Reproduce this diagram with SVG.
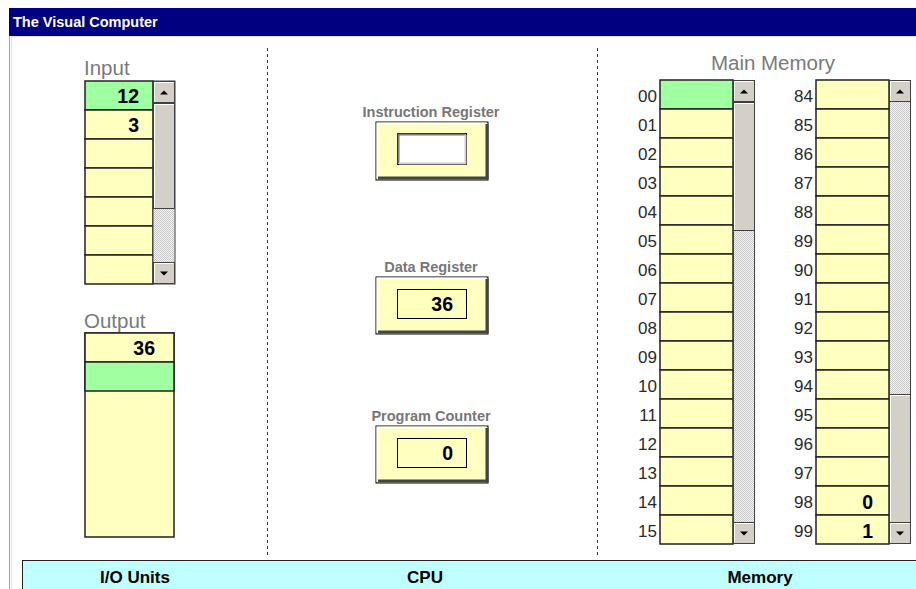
<svg xmlns="http://www.w3.org/2000/svg" width="916" height="589" viewBox="0 0 916 589">
<style>
.title{font-family:"Liberation Sans",Arial,sans-serif;font-weight:bold;font-size:14.5px;fill:#fff}
.big{font-family:"Liberation Sans",Arial,sans-serif;font-size:20.5px;fill:#7a7a7a}
.reg{font-family:"Liberation Sans",Arial,sans-serif;font-weight:bold;font-size:14.5px;fill:#777;text-anchor:middle}
.addr{font-family:"Liberation Sans",Arial,sans-serif;font-size:17px;fill:#2a2a2a;text-anchor:end}
.val{font-family:"Liberation Sans",Arial,sans-serif;font-weight:bold;font-size:19.5px;fill:#000;text-anchor:end}
.foot{font-family:"Liberation Sans",Arial,sans-serif;font-weight:bold;font-size:17px;fill:#000;text-anchor:middle}
.cell{fill:#ffffc0;stroke:#222;stroke-width:1.5}
.green{fill:#a0ffa0;stroke:#222;stroke-width:1.5}
.btn{fill:#d4d0c8;stroke:#404040;stroke-width:1}
.thumb{fill:#d4d0c8;stroke:#404040;stroke-width:1}
.track{fill:url(#dots)}
.div{stroke:#333;stroke-width:1;stroke-dasharray:3,3}
</style>
<defs>
<pattern id="dots" width="2" height="2" patternUnits="userSpaceOnUse">
<rect width="2" height="2" fill="#f4f4f4"/>
<rect width="1" height="1" fill="#c8c8c8"/>
<rect x="1" y="1" width="1" height="1" fill="#c8c8c8"/>
</pattern>
<g id="up"><rect class="btn" width="21" height="21"/><path d="M1 20V1H20" fill="none" stroke="#fff"/><path d="M6.5 13h8l-4-4z" fill="#000"/></g>
<g id="down"><rect class="btn" width="21" height="21"/><path d="M1 20V1H20" fill="none" stroke="#fff"/><path d="M6.5 9h8l-4 4z" fill="#000"/></g>
</defs>
<rect width="916" height="589" fill="#fff"/>
<!-- window -->
<rect x="9" y="8" width="907" height="28" fill="#000080"/>
<text class="title" x="13" y="27">The Visual Computer</text>
<line x1="9.5" y1="36" x2="9.5" y2="589" stroke="#a0a0a0"/>
<line x1="11.5" y1="36" x2="11.5" y2="589" stroke="#e0e0e0"/>
<line x1="11" y1="36.5" x2="916" y2="36.5" stroke="#e0e0e0"/>
<g id="dividers">
<line class="div" x1="267.5" y1="48" x2="267.5" y2="558"/>
<line class="div" x1="597.5" y1="48" x2="597.5" y2="558"/>
</g>
<!-- Input -->
<g id="input">
<text class="big" x="84" y="75">Input</text>
<rect class="green" x="85" y="81" width="68" height="29"/>
<rect class="cell" x="85" y="110" width="68" height="29"/>
<rect class="cell" x="85" y="139" width="68" height="29"/>
<rect class="cell" x="85" y="168" width="68" height="29"/>
<rect class="cell" x="85" y="197" width="68" height="29"/>
<rect class="cell" x="85" y="226" width="68" height="29"/>
<rect class="cell" x="85" y="255" width="68" height="29"/>
<text class="val" x="139" y="103">12</text>
<text class="val" x="139" y="132">3</text>
<rect class="track" x="153" y="81" width="22" height="203" stroke="#404040"/>
<use href="#up" x="153.5" y="81.5"/>
<rect class="thumb" x="153.5" y="103.5" width="21" height="105"/>
<path d="M154.5 207.5V104.5H174" fill="none" stroke="#fff"/>
<use href="#down" x="153.5" y="262.5"/>
</g>
<!-- Output -->
<g id="output">
<text class="big" x="84" y="328">Output</text>
<rect class="cell" x="85" y="333" width="89" height="204"/>
<rect class="cell" x="85" y="333" width="89" height="29"/>
<rect class="green" x="85" y="362" width="89" height="29"/>
<text class="val" x="155" y="355">36</text>
</g>
<!-- CPU registers -->
<g id="ir">
<text class="reg" x="431" y="117">Instruction Register</text>
<rect x="376" y="122" width="112" height="58" fill="#ffffc0" stroke="#000"/>
<path d="M377.5 178.5V123.5H486.5" fill="none" stroke="#fff" stroke-width="2"/>
<path d="M378 178h109V124" fill="none" stroke="#444" stroke-width="3"/>
<rect x="397.5" y="133.5" width="69" height="31" fill="#fff" stroke="#000"/>
<path d="M398.5 163.5V134.5H465.5" fill="none" stroke="#777" stroke-width="2"/>
<path d="M399 163.5h66.5V135" fill="none" stroke="#d4d0c8" stroke-width="2"/>
</g>
<g id="dr">
<text class="reg" x="431" y="272">Data Register</text>
<rect x="376" y="277" width="112" height="57" fill="#ffffc0" stroke="#000"/>
<path d="M377.5 332.5V278.5H486.5" fill="none" stroke="#fff" stroke-width="2"/>
<path d="M378 332h109V279" fill="none" stroke="#444" stroke-width="3"/>
<rect x="397.5" y="289.5" width="69" height="29" fill="#ffffc0" stroke="#000"/>
<text class="val" x="453" y="311">36</text>
</g>
<g id="pc">
<text class="reg" x="431" y="421">Program Counter</text>
<rect x="376" y="426" width="112" height="57" fill="#ffffc0" stroke="#000"/>
<path d="M377.5 481.5V427.5H486.5" fill="none" stroke="#fff" stroke-width="2"/>
<path d="M378 481h109V428" fill="none" stroke="#444" stroke-width="3"/>
<rect x="397.5" y="438.5" width="69" height="29" fill="#ffffc0" stroke="#000"/>
<text class="val" x="453" y="460">0</text>
</g>
<!-- Memory -->
<g id="memory">
<text class="big" x="773" y="70" text-anchor="middle">Main Memory</text>
<g id="mem-col1">
<rect class="green" x="660" y="80" width="73" height="29"/>
<rect class="cell" x="660" y="109" width="73" height="29"/>
<rect class="cell" x="660" y="138" width="73" height="29"/>
<rect class="cell" x="660" y="167" width="73" height="29"/>
<rect class="cell" x="660" y="196" width="73" height="29"/>
<rect class="cell" x="660" y="225" width="73" height="29"/>
<rect class="cell" x="660" y="254" width="73" height="29"/>
<rect class="cell" x="660" y="283" width="73" height="29"/>
<rect class="cell" x="660" y="312" width="73" height="29"/>
<rect class="cell" x="660" y="341" width="73" height="29"/>
<rect class="cell" x="660" y="370" width="73" height="29"/>
<rect class="cell" x="660" y="399" width="73" height="29"/>
<rect class="cell" x="660" y="428" width="73" height="29"/>
<rect class="cell" x="660" y="457" width="73" height="29"/>
<rect class="cell" x="660" y="486" width="73" height="29"/>
<rect class="cell" x="660" y="515" width="73" height="29"/>
<text class="addr" x="657" y="102">00</text>
<text class="addr" x="657" y="131">01</text>
<text class="addr" x="657" y="160">02</text>
<text class="addr" x="657" y="189">03</text>
<text class="addr" x="657" y="218">04</text>
<text class="addr" x="657" y="247">05</text>
<text class="addr" x="657" y="276">06</text>
<text class="addr" x="657" y="305">07</text>
<text class="addr" x="657" y="334">08</text>
<text class="addr" x="657" y="363">09</text>
<text class="addr" x="657" y="392">10</text>
<text class="addr" x="657" y="421">11</text>
<text class="addr" x="657" y="450">12</text>
<text class="addr" x="657" y="479">13</text>
<text class="addr" x="657" y="508">14</text>
<text class="addr" x="657" y="537">15</text>
<rect class="track" x="733.5" y="80.5" width="21" height="463" stroke="#404040"/>
<use href="#up" x="733.5" y="80.5"/>
<rect class="thumb" x="733.5" y="102.5" width="21" height="128"/>
<path d="M734.5 229.5V103.5H754" fill="none" stroke="#fff"/>
<use href="#down" x="733.5" y="522.5"/>
</g>
<g id="mem-col2">
<rect class="cell" x="816" y="80" width="73" height="29"/>
<rect class="cell" x="816" y="109" width="73" height="29"/>
<rect class="cell" x="816" y="138" width="73" height="29"/>
<rect class="cell" x="816" y="167" width="73" height="29"/>
<rect class="cell" x="816" y="196" width="73" height="29"/>
<rect class="cell" x="816" y="225" width="73" height="29"/>
<rect class="cell" x="816" y="254" width="73" height="29"/>
<rect class="cell" x="816" y="283" width="73" height="29"/>
<rect class="cell" x="816" y="312" width="73" height="29"/>
<rect class="cell" x="816" y="341" width="73" height="29"/>
<rect class="cell" x="816" y="370" width="73" height="29"/>
<rect class="cell" x="816" y="399" width="73" height="29"/>
<rect class="cell" x="816" y="428" width="73" height="29"/>
<rect class="cell" x="816" y="457" width="73" height="29"/>
<rect class="cell" x="816" y="486" width="73" height="29"/>
<rect class="cell" x="816" y="515" width="73" height="29"/>
<text class="addr" x="813" y="102">84</text>
<text class="addr" x="813" y="131">85</text>
<text class="addr" x="813" y="160">86</text>
<text class="addr" x="813" y="189">87</text>
<text class="addr" x="813" y="218">88</text>
<text class="addr" x="813" y="247">89</text>
<text class="addr" x="813" y="276">90</text>
<text class="addr" x="813" y="305">91</text>
<text class="addr" x="813" y="334">92</text>
<text class="addr" x="813" y="363">93</text>
<text class="addr" x="813" y="392">94</text>
<text class="addr" x="813" y="421">95</text>
<text class="addr" x="813" y="450">96</text>
<text class="addr" x="813" y="479">97</text>
<text class="addr" x="813" y="508">98</text>
<text class="addr" x="813" y="537">99</text>
<text class="val" x="873" y="509">0</text>
<text class="val" x="873" y="538">1</text>
<rect class="track" x="889.5" y="80.5" width="21" height="463" stroke="#404040"/>
<use href="#up" x="889.5" y="80.5"/>
<rect class="thumb" x="889.5" y="394.5" width="21" height="128"/>
<path d="M890.5 521.5V395.5H910" fill="none" stroke="#fff"/>
<use href="#down" x="889.5" y="522.5"/>
</g>
</g>
<!-- footer -->
<g id="footer">
<rect x="22.5" y="560.5" width="900" height="40" fill="#c0ffff" stroke="#222"/>
<text class="foot" x="135" y="583">I/O Units</text>
<text class="foot" x="425" y="583">CPU</text>
<text class="foot" x="760" y="583">Memory</text>
</g>
</svg>
